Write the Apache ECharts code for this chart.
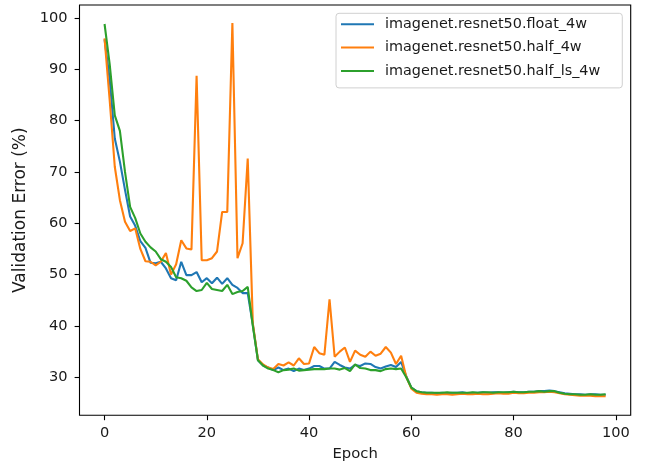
<!DOCTYPE html>
<html>
<head>
<meta charset="utf-8">
<script src="https://cdn.jsdelivr.net/npm/echarts@6/dist/echarts.min.js"></script>
<style>
html,body{margin:0;padding:0;background:#fff;}
#chart{width:655px;height:472px;}
</style>
</head>
<body>
<div id="chart"></div>
<script>
var seriesNames = ['imagenet.resnet50.float_4w', 'imagenet.resnet50.half_4w', 'imagenet.resnet50.half_ls_4w'];
var xTicks = [0, 20, 40, 60, 80, 100];
var yTicks = [30, 40, 50, 60, 70, 80, 90, 100];

var floatErr = [
  95.8, 88.0, 76.5, 72.0, 66.5, 61.3, 59.5, 56.5, 55.2, 52.3,
  52.2, 52.5, 51.2, 49.3, 48.9, 52.5, 49.9, 49.9, 50.5, 48.5,
  49.3, 48.3, 49.4, 48.2, 49.3, 48.0, 47.4, 46.4, 46.4, 40.2,
  33.3, 32.3, 31.9, 31.4, 31.9, 31.4, 31.7, 31.2, 31.7, 31.4,
  31.7, 32.2, 32.2, 31.7, 31.7, 33.0, 32.4, 31.9, 31.7, 32.4,
  32.2, 32.7, 32.6, 32.0, 31.7, 32.1, 32.4, 32.0, 33.0, 30.2,
  28.0, 27.3, 27.1, 27.0, 27.0, 26.9, 27.0, 26.9, 27.0, 27.0,
  27.1, 26.9, 27.0, 27.0, 27.1, 27.0, 27.1, 27.1, 27.0, 27.1,
  27.2, 27.1, 27.1, 27.2, 27.2, 27.3, 27.3, 27.4, 27.3, 27.1,
  26.9, 26.8, 26.7, 26.7, 26.6, 26.7, 26.7, 26.6, 26.6
];
var halfErr = [
  96.0, 84.0, 71.0, 64.5, 60.3, 58.5, 59.0, 55.0, 52.6, 52.5,
  51.8, 52.5, 54.2, 50.0, 52.0, 56.7, 55.1, 54.9, 88.7, 52.8,
  52.8, 53.2, 54.5, 62.2, 62.2, 99.0, 53.2, 56.1, 72.6, 40.5,
  33.5, 32.5, 31.9, 31.6, 32.6, 32.3, 32.9, 32.3, 33.7, 32.6,
  32.7, 35.9, 34.7, 34.4, 45.2, 34.0, 35.0, 35.8, 33.0, 35.2,
  34.4, 34.0, 35.0, 34.2, 34.6, 35.9, 34.8, 32.6, 34.2, 30.1,
  27.8, 27.0, 26.8, 26.7, 26.7, 26.6, 26.7, 26.7, 26.6, 26.7,
  26.8, 26.7, 26.7, 26.8, 26.7, 26.7, 26.8, 26.9, 26.8, 26.8,
  27.0, 26.9, 26.9, 27.0, 27.0, 27.1, 27.1, 27.2, 27.1, 26.9,
  26.7, 26.6, 26.5, 26.4, 26.4, 26.4, 26.3, 26.3, 26.3
];
var halfLsErr = [
  98.8, 91.0, 81.0, 78.0, 70.0, 63.2, 61.0, 58.0, 56.4, 55.3,
  54.5, 53.0, 52.5, 51.5, 49.5, 49.3, 48.8, 47.5, 46.8, 47.0,
  48.4, 47.2, 47.0, 46.8, 48.0, 46.2, 46.6, 46.8, 47.6, 40.0,
  33.3, 32.3, 31.7, 31.4, 31.0, 31.4, 31.5, 31.7, 31.3, 31.4,
  31.5, 31.6, 31.6, 31.6, 31.7, 31.7, 31.5, 31.8, 31.2, 32.5,
  31.8, 31.7, 31.4, 31.4, 31.2, 31.6, 31.7, 31.6, 31.7, 30.0,
  28.0, 27.3, 27.1, 27.0, 27.0, 27.0, 27.0, 27.1, 27.0, 27.0,
  27.0, 27.0, 27.1, 27.0, 27.1, 27.1, 27.0, 27.1, 27.1, 27.1,
  27.2, 27.1, 27.1, 27.2, 27.2, 27.3, 27.2, 27.3, 27.3, 27.0,
  26.8, 26.7, 26.7, 26.6, 26.6, 26.7, 26.6, 26.6, 26.7
];
var epochs = floatErr.map(function (_, i) { return i; });
var colors = ['#1f77b4', '#ff7f0e', '#2ca02c'];
var allValues = [floatErr, halfErr, halfLsErr];

function pairs(vals) { return epochs.map(function (e, i) { return [e, vals[i]]; }); }

var FONT = 'DejaVu Sans';
var TXT = '#1a1a1a';
var chart = echarts.init(document.getElementById('chart'), null, { renderer: 'canvas' });
var option = {
  animation: false,
  backgroundColor: '#fff',
  color: colors,
  grid: { left: 79.5, top: 5, width: 551.2, height: 410.3, show: true, borderColor: '#000', borderWidth: 1.1, backgroundColor: 'transparent' },
  xAxis: {
    type: 'value', min: -4.9, max: 102.9,
    name: 'Epoch', nameLocation: 'middle', nameGap: 31,
    nameTextStyle: { fontFamily: FONT, fontSize: 14.8, color: TXT },
    axisLine: { show: false, onZero: false },
    axisTick: { show: true, inside: false, length: 4.9, lineStyle: { color: '#000', width: 1.1 }, customValues: xTicks },
    axisLabel: { fontFamily: FONT, fontSize: 14.6, color: TXT, margin: 10, customValues: xTicks },
    splitLine: { show: false }
  },
  yAxis: {
    type: 'value', min: 22.6, max: 102.5,
    name: 'Validation Error (%)', nameLocation: 'middle', nameGap: 47,
    nameTextStyle: { fontFamily: FONT, fontSize: 17, color: TXT },
    axisLine: { show: false, onZero: false },
    axisTick: { show: true, inside: false, length: 4.9, lineStyle: { color: '#000', width: 1.1 }, customValues: yTicks },
    axisLabel: { fontFamily: FONT, fontSize: 14.6, color: TXT, margin: 12, customValues: yTicks },
    splitLine: { show: false }
  },
  legend: {
    orient: 'vertical', left: 336, top: 13.3,
    icon: 'rect', itemWidth: 33, itemHeight: 2, itemGap: 7.3,
    backgroundColor: 'rgba(255,255,255,0.8)', borderColor: '#d0d0d0', borderWidth: 1, borderRadius: 3,
    padding: [3, 22, 9, 5],
    textStyle: { fontFamily: FONT, fontSize: 14.4, color: TXT, lineHeight: 16, padding: [0, 0, 0, 6] },
    data: seriesNames
  },
  series: seriesNames.map(function (name, k) {
    return {
      name: name, type: 'line', data: pairs(allValues[k]),
      showSymbol: false, symbol: 'none', z: 2 + k,
      lineStyle: { width: 2.1, color: colors[k] },
      itemStyle: { color: colors[k] }
    };
  })
};
chart.setOption(option);
</script>
</body>
</html>
